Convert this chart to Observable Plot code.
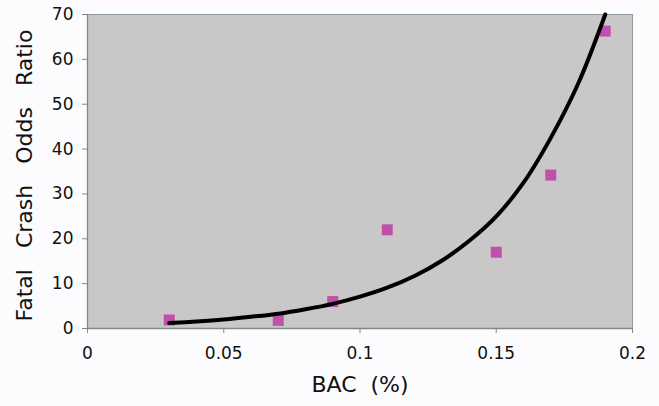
<!DOCTYPE html>
<html>
<head>
<meta charset="utf-8">
<script src="https://cdn.jsdelivr.net/npm/d3@7"></script>
<script src="https://cdn.jsdelivr.net/npm/@observablehq/plot@0.6"></script>
<style>
  html, body { margin: 0; padding: 0; background: #fcfcfe; }
  #chart svg text { font-family: "DejaVu Sans", sans-serif; }
</style>
</head>
<body>
<div id="chart"></div>
<script>
// Observed data points (BAC %, fatal crash odds ratio)
const bac = [0.03, 0.07, 0.09, 0.11, 0.15, 0.17, 0.19];
const oddsRatio = [1.9, 1.8, 6.0, 22, 17, 34.2, 66.3];

// Trend curve
const curveBac = [0.03, 0.04, 0.05, 0.06, 0.07, 0.08, 0.09, 0.10, 0.11, 0.12, 0.13, 0.14, 0.15, 0.16, 0.17, 0.18, 0.19];
const curveOdds = [1.2, 1.55, 2.0, 2.6, 3.3, 4.3, 5.5, 7.1, 9.1, 11.7, 15.1, 19.5, 25, 32.5, 42.5, 54.5, 70];

const xTicks = [0, 0.05, 0.1, 0.15, 0.2];
const xTickLabels = ["0", "0.05", "0.1", "0.15", "0.2"];
const yTicks = [0, 10, 20, 30, 40, 50, 60, 70];

const points = bac.map((x, i) => ({x, y: oddsRatio[i]}));
const curve = curveBac.map((x, i) => ({x, y: curveOdds[i]}));

const chart = Plot.plot({
  width: 659,
  height: 406,
  marginLeft: 87,
  marginRight: 27,
  marginTop: 14,
  marginBottom: 78,
  style: {background: "#fcfcfe", fontFamily: "DejaVu Sans, sans-serif"},
  x: {domain: [0, 0.2], ticks: xTicks, tickFormat: (d, i) => xTickLabels[i], label: null},
  y: {domain: [0, 70], ticks: yTicks, label: null},
  marks: [
    Plot.frame({fill: "#c9c7c8", stroke: "#8e9c9c", strokeWidth: 1}),
    Plot.axisX({ticks: xTicks, tickFormat: (d, i) => xTickLabels[i], tickSize: 5, tickPadding: 13,
      fontSize: 17, stroke: "#7d8a8a", fill: "#111", label: null}),
    Plot.axisY({ticks: yTicks, tickSize: 5, tickPadding: 9, fontSize: 17, stroke: "#7d8a8a", fill: "#111", label: null}),
    Plot.ruleX([0], {stroke: "#7d8a8a", strokeWidth: 1.3}),
    Plot.ruleY([0], {stroke: "#7d8a8a", strokeWidth: 1.3}),
    Plot.dot(points, {x: "x", y: "y", symbol: "square", r: 6.2, fill: "#c150ab", stroke: null}),
    Plot.line(curve, {x: "x", y: "y", stroke: "#000", strokeWidth: 4, curve: "catmull-rom"}),
    Plot.text(["Fatal\u00a0\u00a0\u00a0Crash\u00a0\u00a0\u00a0Odds\u00a0\u00a0\u00a0Ratio"], {
      frameAnchor: "left", dx: -63, dy: 4, rotate: -90, fontSize: 22, fill: "#111", textAnchor: "middle"
    }),
    Plot.text(["BAC\u00a0\u00a0(%)"], {
      frameAnchor: "bottom", dy: 63, fontSize: 22, fill: "#111", textAnchor: "middle"
    })
  ]
});
document.getElementById("chart").appendChild(chart);
</script>
</body>
</html>
